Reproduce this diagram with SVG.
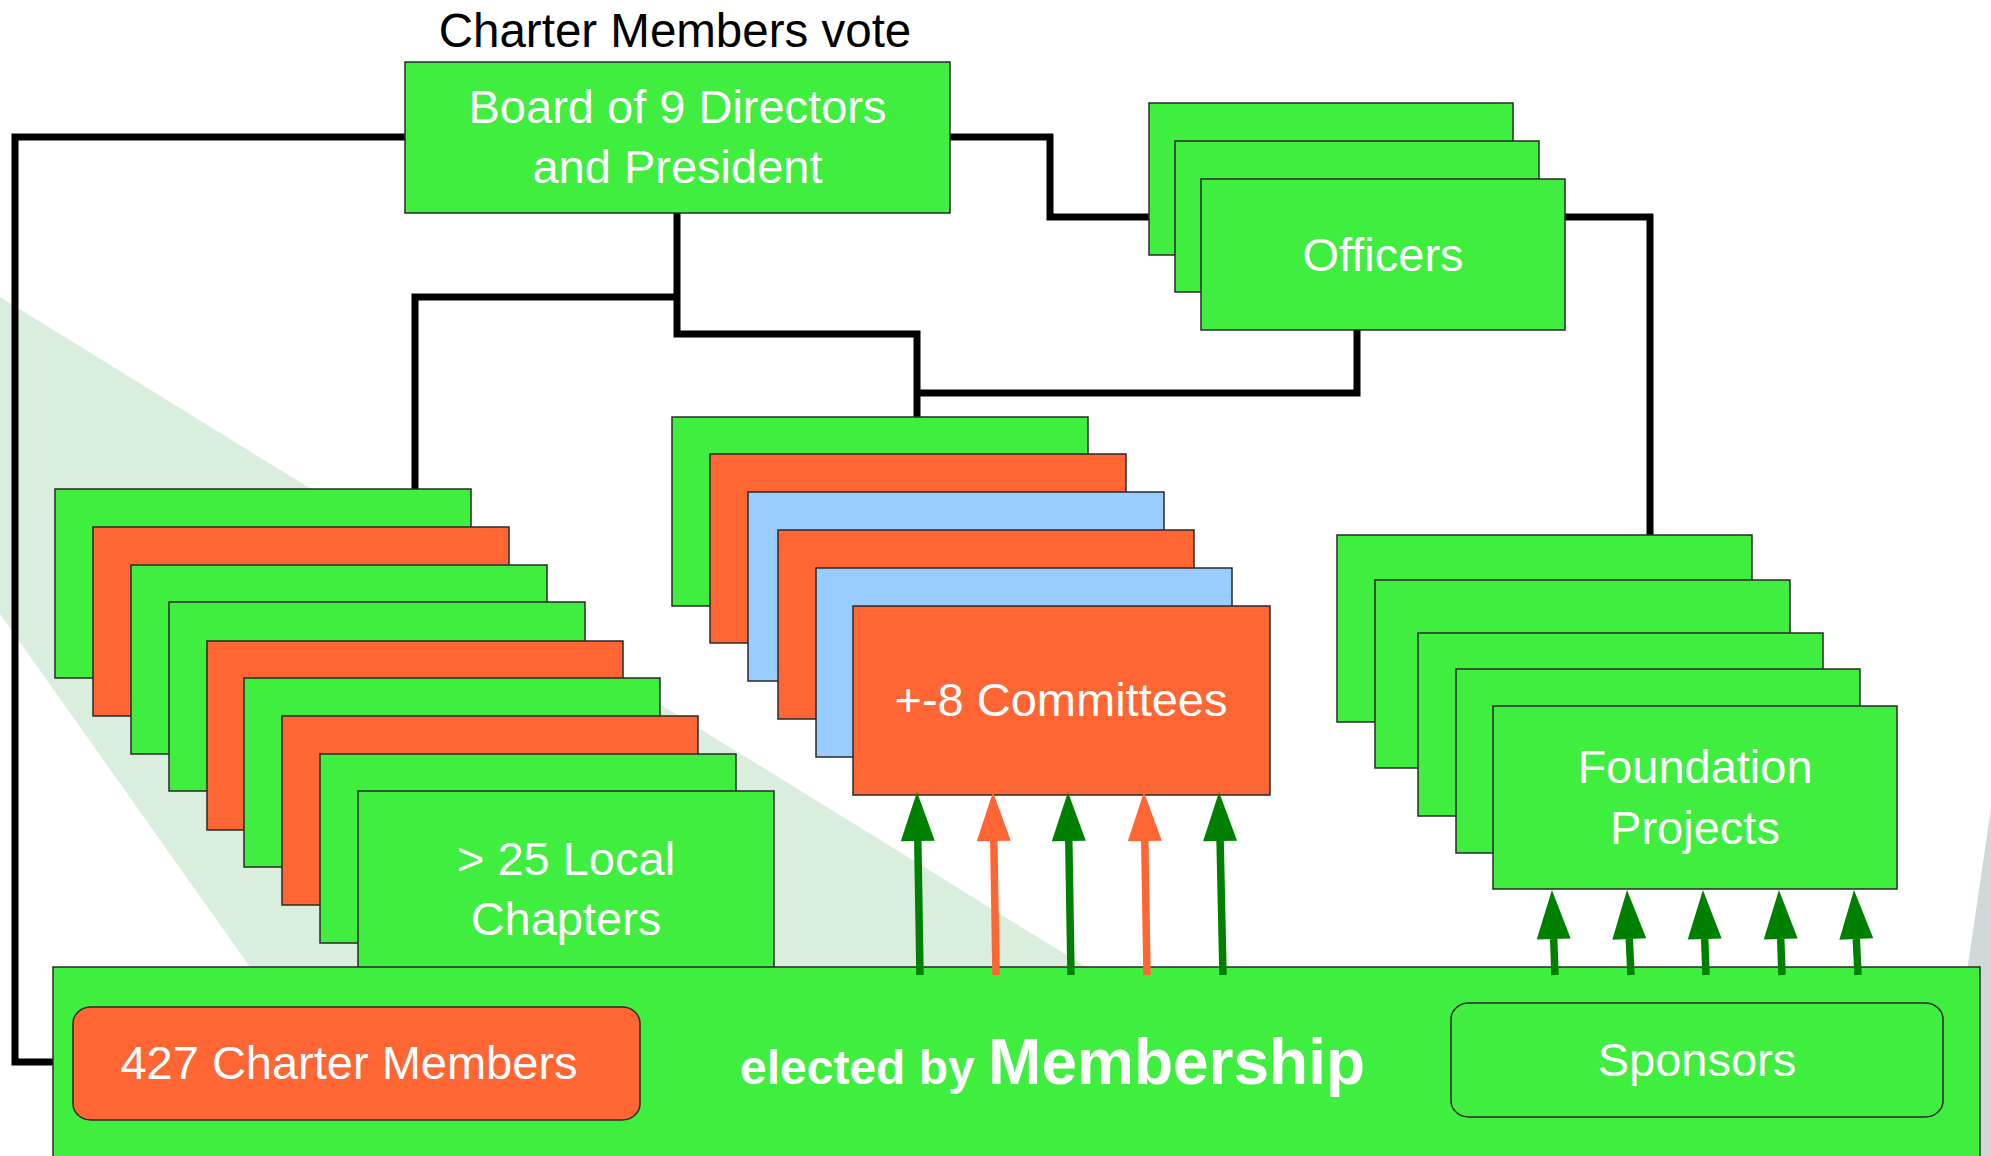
<svg xmlns="http://www.w3.org/2000/svg" width="1991" height="1156" viewBox="0 0 1991 1156">
<defs>
<style>
.g{fill:#40EE40;stroke:#2a2a2a;stroke-width:1.5}
.o{fill:#FF6633;stroke:#2a2a2a;stroke-width:1.5}
.b{fill:#99CCFF;stroke:#2a2a2a;stroke-width:1.5}
.w{font-family:"Liberation Sans",Arial,Helvetica,sans-serif;font-size:47px;fill:#ffffff;text-anchor:middle}
.k{font-family:"Liberation Sans",Arial,Helvetica,sans-serif;font-size:47.5px;fill:#000000;text-anchor:middle}
.c{fill:none;stroke:#000000;stroke-width:7;stroke-linejoin:miter;stroke-linecap:butt}
.ag{fill:none;stroke:#008000;stroke-width:7.5}
.ao{fill:none;stroke:#FF6633;stroke-width:7.5}
</style>
<marker id="hg" markerUnits="userSpaceOnUse" markerWidth="50" markerHeight="34" viewBox="0 -17 50 34" refX="0" refY="0" orient="auto" overflow="visible"><path d="M0,-17 L49,0 L0,17 Z" fill="#008000"/></marker>
<marker id="ho" markerUnits="userSpaceOnUse" markerWidth="50" markerHeight="34" viewBox="0 -17 50 34" refX="0" refY="0" orient="auto" overflow="visible"><path d="M0,-17 L49,0 L0,17 Z" fill="#FF6633"/></marker>
</defs>
<rect x="0" y="0" width="1991" height="1156" fill="#ffffff"/>
<g id="background">
<polygon points="0,297 1086,967 250,967 0,614" fill="#DAEEDE"/>
<polygon points="1991,808 1940,1156 1991,1156" fill="#D0D8DA"/>
</g>
<g id="connectors">
<path class="c" d="M405,137 H15 V1062 H53"/>
<path class="c" d="M950,137 H1050 V217 H1149"/>
<path class="c" d="M1565,217 H1650 V535"/>
<path class="c" d="M677,213 V334 H917 V417"/>
<path class="c" d="M677,297 H415 V489"/>
<path class="c" d="M1357,330 V393 H917"/>
</g>
<text id="title" class="k" x="675" y="47">Charter Members vote</text>
<g id="board">
<rect class="g" x="405" y="62" width="545" height="151"/>
<text class="w" x="677.5" y="123">Board of 9 Directors</text>
<text class="w" x="677.5" y="183">and President</text>
</g>
<g id="officers">
<rect class="g" x="1149" y="103" width="364" height="152"/>
<rect class="g" x="1175" y="141" width="364" height="151"/>
<rect class="g" x="1201" y="179" width="364" height="151"/>
<text class="w" x="1383" y="271">Officers</text>
</g>
<g id="chapters">
<rect class="g" x="55" y="489" width="416" height="189"/>
<rect class="o" x="93" y="527" width="416" height="189"/>
<rect class="g" x="131" y="565" width="416" height="189"/>
<rect class="g" x="169" y="602" width="416" height="189"/>
<rect class="o" x="207" y="641" width="416" height="189"/>
<rect class="g" x="244" y="678" width="416" height="189"/>
<rect class="o" x="282" y="716" width="416" height="189"/>
<rect class="g" x="320" y="754" width="416" height="189"/>
<rect class="g" x="358" y="791" width="416" height="189"/>
<text class="w" x="566" y="875">&gt; 25 Local</text>
<text class="w" x="566" y="935">Chapters</text>
</g>
<g id="committees">
<rect class="g" x="672" y="417" width="416" height="189"/>
<rect class="o" x="710" y="454" width="416" height="189"/>
<rect class="b" x="748" y="492" width="416" height="189"/>
<rect class="o" x="778" y="530" width="416" height="189"/>
<rect class="b" x="816" y="568" width="416" height="189"/>
<rect class="o" x="853" y="606" width="417" height="189"/>
<text class="w" x="1061" y="716">+-8 Committees</text>
</g>
<g id="foundation">
<rect class="g" x="1337" y="535" width="415" height="187"/>
<rect class="g" x="1375" y="580" width="415" height="188"/>
<rect class="g" x="1418" y="633" width="405" height="183"/>
<rect class="g" x="1456" y="669" width="404" height="184"/>
<rect class="g" x="1493" y="706" width="404" height="183"/>
<text class="w" x="1695" y="783">Foundation</text>
<text class="w" x="1695" y="844">Projects</text>
</g>
<g id="membership">
<rect class="g" x="53" y="967" width="1927" height="200"/>
<rect class="o" x="73" y="1007" width="567" height="113" rx="18" ry="16"/>
<text class="w" x="349" y="1079">427 Charter Members</text>
<text x="740" y="1084" font-family="'Liberation Sans',Arial,Helvetica,sans-serif" font-weight="bold" fill="#ffffff"><tspan font-size="48">elected by </tspan><tspan font-size="64">Membership</tspan></text>
<rect class="g" x="1451" y="1003" width="492" height="114" rx="18" ry="16"/>
<text class="w" x="1697" y="1076">Sponsors</text>
</g>
<g id="arrows">
<path class="ag" d="M920,975 L917.8,841" marker-end="url(#hg)"/>
<path class="ao" d="M996,975 L993.8,841" marker-end="url(#ho)"/>
<path class="ag" d="M1071,975 L1068.8,841" marker-end="url(#hg)"/>
<path class="ao" d="M1147,975 L1144.8,841" marker-end="url(#ho)"/>
<path class="ag" d="M1223,975 L1220.1,841" marker-end="url(#hg)"/>
<path class="ag" d="M1555,975 L1553.7,939" marker-end="url(#hg)"/>
<path class="ag" d="M1631,975 L1629.3,939" marker-end="url(#hg)"/>
<path class="ag" d="M1706,975 L1704.7,939" marker-end="url(#hg)"/>
<path class="ag" d="M1782,975 L1780.7,939" marker-end="url(#hg)"/>
<path class="ag" d="M1858,975 L1856.3,939" marker-end="url(#hg)"/>
</g>
</svg>
